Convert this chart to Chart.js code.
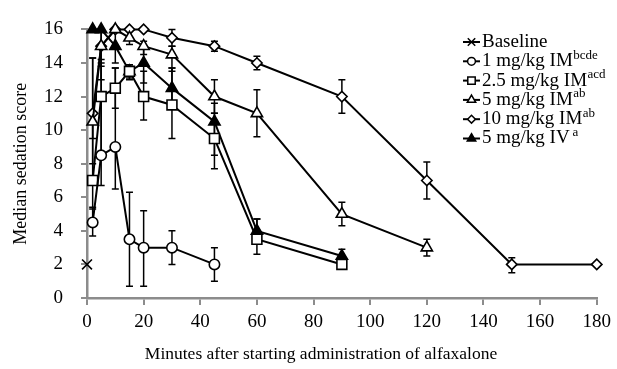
<!DOCTYPE html>
<html>
<head>
<meta charset="utf-8">
<script src="https://cdn.jsdelivr.net/npm/chart.js@4"></script>
<style>
html, body { margin: 0; padding: 0; background: #fff; }
#wrap { width: 617px; height: 369px; position: relative; }
</style>
</head>
<body>
<div id="wrap"><canvas id="sedationChart"></canvas></div>
<script>
// minutes / median score / [low, high] range
const baselineTimes = [0];
const baselineScores = [2];

const im1Times = [2, 5, 10, 15, 20, 30, 45];
const im1Scores = [4.5, 8.5, 9, 3.5, 3, 3, 2];
const im1Errors = [[3.7, 5.4], [6.7, 14.2], [6.5, 13.7], [0.7, 6.3], [0.7, 5.2], [2, 4], [1, 3]];

const im25Times = [2, 5, 10, 15, 20, 30, 45, 60, 90];
const im25Scores = [7, 12, 12.5, 13.5, 12, 11.5, 9.5, 3.5, 2];
const im25Errors = [[5.3, 10.5], [8.5, 14], [11.3, 13.7], [13, 13.9], [10.6, 13.5], [9.5, 13.7], [7.7, 11], [2.6, 4.7], null];

const im5Times = [2, 5, 10, 15, 20, 30, 45, 60, 90, 120];
const im5Scores = [10.5, 15, 16, 15.5, 15, 14.5, 12, 11, 5, 3];
const im5Errors = [[8, 14.3], [13.8, 16], null, [15.1, 16], [14.5, 15.3], [13.5, 15], [11, 13], [9.6, 12.4], [4.3, 5.7], [2.5, 3.5]];

const im10Times = [2, 5, 10, 15, 20, 30, 45, 60, 90, 120, 150, 180];
const im10Scores = [11, 15, 16, 16, 16, 15.5, 15, 14, 12, 7, 2, 2];
const im10Errors = [[9.5, 14.3], [13, 16], null, null, null, [15, 16], [14.7, 15.3], [13.6, 14.4], [11, 13], [5.9, 8.1], [1.5, 2.4], null];

const iv5Times = [2, 5, 10, 15, 20, 30, 45, 60, 90];
const iv5Scores = [16, 16, 15, 13.5, 14, 12.5, 10.5, 4, 2.5];
const iv5Errors = [null, null, [14, 16], [13.1, 13.9], [12.8, 15], [11.4, 13.7], [8.5, 11.6], [3.4, 4.7], [2, 2.9]];

const xTicks = [0, 20, 40, 60, 80, 100, 120, 140, 160, 180];
const yTicks = [0, 2, 4, 6, 8, 10, 12, 14, 16];

const legendNames = ['Baseline', '1 mg/kg IM', '2.5 mg/kg IM', '5 mg/kg IM', '10 mg/kg IM', '5 mg/kg IV'];
const legendSups = ['', 'bcde', 'acd', 'ab', 'ab', 'a'];
const xTitle = 'Minutes after starting administration of alfaxalone';

const FONT = "'Liberation Serif', 'Times New Roman', serif";
const AXIS_GREY = '#8c8c8c';

function pts(xs, ys) {
    return xs.map((x, i) => ({ x: x, y: ys[i] }));
}

function series(label, xs, ys, errs, style, radius, fill) {
    return {
        label: label,
        data: pts(xs, ys),
        errors: errs,
        borderColor: '#000',
        borderWidth: 2,
        pointStyle: style,
        pointRadius: radius,
        pointBorderWidth: 1.6,
        pointBorderColor: '#000',
        pointBackgroundColor: fill,
        showLine: true,
        tension: 0,
        clip: false
    };
}

const datasets = [
    series('Baseline', baselineTimes, baselineScores, null, 'crossRot', 7, '#000'),
    series('1 mg/kg IM', im1Times, im1Scores, im1Errors, 'circle', 5.2, '#fff'),
    series('2.5 mg/kg IM', im25Times, im25Scores, im25Errors, 'rect', 7, '#fff'),
    series('5 mg/kg IM', im5Times, im5Scores, im5Errors, 'triangle', 6.5, '#fff'),
    series('10 mg/kg IM', im10Times, im10Scores, im10Errors, 'rectRot', 5.2, '#fff'),
    series('5 mg/kg IV', iv5Times, iv5Scores, iv5Errors, 'triangle', 6.5, '#000')
];

// vertical range bars, drawn under the markers
const errorBars = {
    id: 'errorBars',
    beforeDatasetsDraw(chart) {
        const ctx = chart.ctx;
        const ys = chart.scales.y;
        ctx.save();
        ctx.strokeStyle = '#000';
        ctx.lineWidth = 1.5;
        chart.data.datasets.forEach((ds, i) => {
            if (!ds.errors) return;
            chart.getDatasetMeta(i).data.forEach((pt, j) => {
                const e = ds.errors[j];
                if (!e) return;
                const lo = ys.getPixelForValue(e[0]);
                const hi = ys.getPixelForValue(e[1]);
                ctx.beginPath();
                ctx.moveTo(pt.x, lo); ctx.lineTo(pt.x, hi);
                ctx.moveTo(pt.x - 3.5, lo); ctx.lineTo(pt.x + 3.5, lo);
                ctx.moveTo(pt.x - 3.5, hi); ctx.lineTo(pt.x + 3.5, hi);
                ctx.stroke();
            });
        });
        ctx.restore();
    }
};

// legend with superscript letters, plus the x title (sits left of centre in the original)
const supLegend = {
    id: 'supLegend',
    afterDraw(chart) {
        const ctx = chart.ctx;
        const x0 = 463, x1 = 480, tx = 482, top = 42, step = 19.3;
        chart.data.datasets.forEach((ds, i) => {
            const y = top + i * step;
            ctx.save();
            ctx.strokeStyle = '#000';
            ctx.lineWidth = 2;
            ctx.beginPath();
            ctx.moveTo(x0, y); ctx.lineTo(x1, y);
            ctx.stroke();
            ctx.fillStyle = ds.pointBackgroundColor;
            ctx.lineWidth = 1.5;
            Chart.helpers.drawPoint(ctx, {
                pointStyle: ds.pointStyle,
                radius: ds.pointRadius * 0.75,
                rotation: 0,
                borderWidth: 1.5
            }, (x0 + x1) / 2, y);
            ctx.fillStyle = '#000';
            ctx.textBaseline = 'middle';
            ctx.textAlign = 'left';
            ctx.font = '19px ' + FONT;
            ctx.fillText(legendNames[i], tx, y);
            const w = ctx.measureText(legendNames[i]).width;
            if (legendSups[i]) {
                ctx.font = '13px ' + FONT;
                ctx.fillText(legendSups[i], tx + w + (i === 5 ? 3 : 0.5), y - 6);
            }
            ctx.restore();
        });
        ctx.save();
        ctx.fillStyle = '#000';
        ctx.font = '17.5px ' + FONT;
        ctx.textAlign = 'center';
        ctx.textBaseline = 'middle';
        ctx.fillText(xTitle, 321, 354);
        ctx.restore();
    }
};

new Chart(document.getElementById('sedationChart'), {
    type: 'scatter',
    data: { datasets: datasets },
    options: {
        responsive: true,
        maintainAspectRatio: false,
        animation: false,
        layout: { padding: { left: 0, right: 20, top: 23, bottom: 0 } },
        plugins: {
            legend: { display: false },
            tooltip: { enabled: false }
        },
        scales: {
            x: {
                type: 'linear',
                min: 0,
                max: 180,
                afterBuildTicks: (s) => { s.ticks = xTicks.map(v => ({ value: v })); },
                afterFit: (s) => { s.height = 71; },
                ticks: { color: '#000', font: { family: FONT, size: 19 }, padding: 6 },
                grid: { drawOnChartArea: false, drawTicks: true, tickLength: 7, color: AXIS_GREY, lineWidth: 2 },
                border: { color: AXIS_GREY, width: 2.5 }
            },
            y: {
                type: 'linear',
                min: 0,
                max: 16,
                afterBuildTicks: (s) => { s.ticks = yTicks.map(v => ({ value: v })); },
                afterFit: (s) => { s.width = 87; },
                ticks: { color: '#000', font: { family: FONT, size: 19 }, padding: 18 },
                grid: { drawOnChartArea: false, drawTicks: true, tickLength: 6, color: AXIS_GREY, lineWidth: 2 },
                border: { color: AXIS_GREY, width: 2.5 },
                title: {
                    display: true,
                    text: 'Median sedation score',
                    color: '#000',
                    font: { family: FONT, size: 18 },
                    padding: { top: 10, bottom: 0 }
                }
            }
        }
    },
    plugins: [errorBars, supLegend]
});
</script>
</body>
</html>
